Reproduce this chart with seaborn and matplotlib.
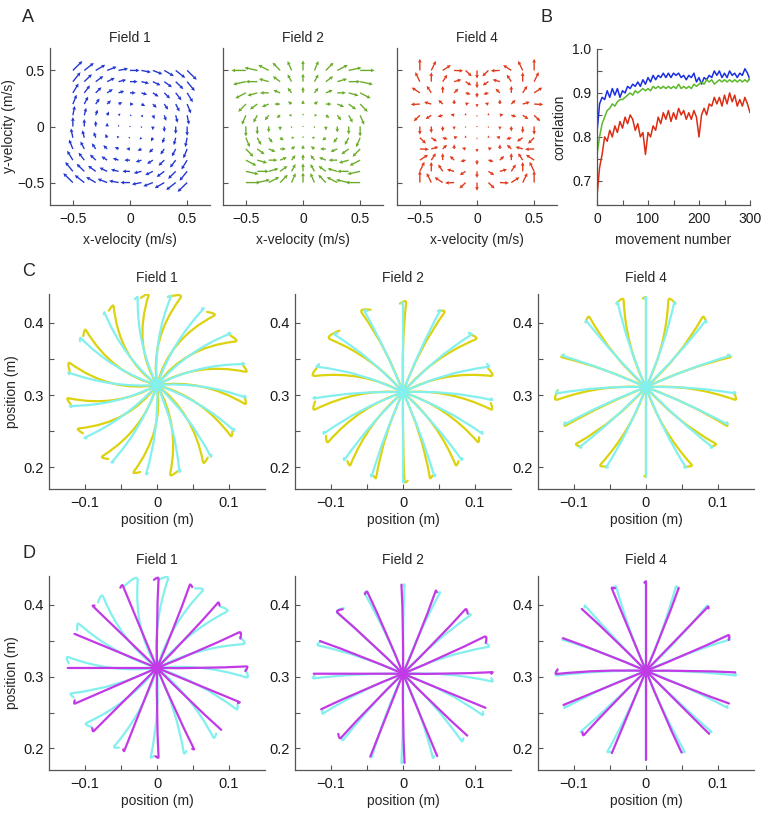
import numpy as np
import pandas as pd
import seaborn as sns
import matplotlib.pyplot as plt
from matplotlib.path import Path
from matplotlib.patches import PathPatch

# ---------------- panel A: force fields ----------------
GRID_V = [-0.5, -0.4, -0.3, -0.2, -0.1, 0.0, 0.1, 0.2, 0.3, 0.4, 0.5]
FIELD_TITLES = ['Field 1', 'Field 2', 'Field 4']
FIELD_ORDER = [1, 2, 4]          # force direction follows -i * z**n, z = vx + i*vy
FIELD_POWER = [1.0, 1.0, 1.0]    # force magnitude ~ |v|**p
FIELD_COLORS = ['#2336d0', '#6aab2a', '#e03a1c']
A_TICKS = [-0.5, 0, 0.5]
A_TICKLABELS = ['\u22120.5', '0', '0.5']

# ---------------- panel B: correlation ----------------
MOVES = list(range(0, 301, 5))
CORR_F1 = [0.81, 0.875, 0.89, 0.885, 0.905, 0.89, 0.91, 0.895, 0.91, 0.89,
           0.905, 0.90, 0.915, 0.91, 0.92, 0.915, 0.925, 0.915, 0.93, 0.92,
           0.935, 0.925, 0.94, 0.93, 0.94, 0.935, 0.945, 0.935, 0.945, 0.935,
           0.945, 0.94, 0.945, 0.935, 0.94, 0.93, 0.94, 0.935, 0.945, 0.925,
           0.935, 0.92, 0.935, 0.93, 0.94, 0.935, 0.95, 0.94, 0.95, 0.935,
           0.945, 0.935, 0.95, 0.94, 0.945, 0.935, 0.945, 0.94, 0.955, 0.945,
           0.93]
CORR_F2 = [0.76, 0.80, 0.83, 0.845, 0.86, 0.865, 0.875, 0.87, 0.88, 0.885,
           0.885, 0.89, 0.895, 0.90, 0.895, 0.905, 0.90, 0.905, 0.91, 0.905,
           0.91, 0.905, 0.915, 0.91, 0.915, 0.91, 0.915, 0.91, 0.915, 0.91,
           0.915, 0.91, 0.92, 0.91, 0.915, 0.91, 0.915, 0.91, 0.92, 0.915,
           0.92, 0.925, 0.92, 0.93, 0.925, 0.93, 0.92, 0.925, 0.93, 0.925,
           0.93, 0.925, 0.93, 0.925, 0.93, 0.925, 0.93, 0.925, 0.93, 0.925,
           0.935]
CORR_F4 = [0.665, 0.73, 0.76, 0.80, 0.79, 0.815, 0.80, 0.825, 0.81, 0.835,
           0.82, 0.845, 0.83, 0.85, 0.84, 0.815, 0.83, 0.80, 0.81, 0.76,
           0.81, 0.80, 0.825, 0.815, 0.845, 0.83, 0.855, 0.84, 0.86, 0.835,
           0.855, 0.84, 0.865, 0.85, 0.86, 0.84, 0.855, 0.84, 0.86, 0.845,
           0.80, 0.85, 0.865, 0.85, 0.875, 0.87, 0.89, 0.875, 0.89, 0.87,
           0.895, 0.875, 0.90, 0.88, 0.895, 0.87, 0.885, 0.87, 0.89, 0.875,
           0.855]

# ---------------- panels C, D: reaches ----------------
TARGET_DEG = [0, 22.5, 45, 67.5, 90, 112.5, 135, 157.5,
              180, 202.5, 225, 247.5, 270, 292.5, 315, 337.5]
CENTER_Y_C = [0.314, 0.304, 0.311]
CENTER_Y_D = [0.312, 0.304, 0.308]
# per target: (deviation half way, deviation at end, end hook) in degrees, + = counter-clockwise
C_F1_YELLOW = [(-2, -12, 4), (-3, -14, 4), (-3, -16, 5), (-4, -17, 5),
               (-3, -15, 8), (-4, -17, 5), (-3, -16, 4), (-3, -15, 4),
               (-2, -14, 5), (-3, -14, 4), (-3, -16, 4), (-4, -15, 4),
               (-3, -15, 4), (-3, -14, 5), (-3, -14, 4), (-2, -12, 3)]
C_F1_CYAN = [(-2, -8, 1), (-2, -9, 1), (-3, -10, 1), (-3, -9, 1),
             (-2, -9, 2), (-3, -10, 2), (-2, -9, 1), (-2, -9, 2),
             (-2, -8, 1), (-2, -9, 1), (-3, -9, 1), (-2, -8, 1),
             (-2, -7, 1), (-3, -8, 1), (-3, -8, 1), (-2, -8, 1)]
C_F2_YELLOW = [(-3, -11, 4), (-3, -12, 5), (-2, -9, 5), (-1, -5, 4),
               (0, -2, 4), (1, 5, -6), (2, 9, -8), (3, 12, -7),
               (3, 11, -5), (3, 11, -4), (2, 9, -3), (1, 5, -2),
               (0, 1, 2), (-1, -5, 2), (-2, -9, 3), (-3, -11, 3)]
C_F2_CYAN = [(-1, -5, 1), (-1, -6, 2), (-1, -5, 2), (0, -2, 1),
             (0, 0, 1), (1, 3, -2), (1, 5, -2), (1, 6, -2),
             (1, 4, -1), (1, 5, -1), (1, 4, -1), (0, 2, -1),
             (0, 0, 1), (0, -2, 1), (-1, -4, 1), (-1, -5, 1)]
C_F4_YELLOW = [(-2, -8, 4), (0, -3, 2), (1, 6, -4), (2, 8, -5),
               (0, 0, 2), (-2, -8, 5), (-1, -6, 4), (0, 3, -2),
               (2, 8, -6), (1, 3, -2), (-1, -6, 3), (-2, -8, 4),
               (0, 0, -1), (2, 8, -4), (1, 6, -3), (0, -3, 2)]
C_F4_CYAN = [(-1, -4, 1), (0, -2, 1), (1, 3, -1), (1, 4, -1),
             (0, 0, 1), (-1, -4, 1), (-1, -3, 1), (0, 2, -1),
             (1, 4, -2), (0, 2, -1), (-1, -3, 1), (-1, -4, 1),
             (0, 0, 0), (1, 4, -1), (1, 3, -1), (0, -2, 1)]
D_F1_MAGENTA = [(0, 1, -3), (0, 1, -4), (1, 2, -2), (0, 1, -2),
                (0, -1, 3), (0, 0, 2), (1, 1, -1), (0, 0, 0),
                (0, 0, 0), (1, 1, -2), (0, 0, -2), (1, 1, -1),
                (0, 1, -2), (1, 2, -1), (0, 1, 0), (0, 0, -1)]
D_F1_CYAN = [(0, -6, 5), (-1, -7, 5), (0, -6, 5), (-1, -8, 5),
             (-1, -7, 6), (-1, -10, 9), (0, -8, 5), (-1, -7, 4),
             (0, -7, 4), (-1, -6, 3), (0, -7, 4), (0, -6, 3),
             (0, -4, 2), (-1, -5, 2), (0, -6, 3), (0, -5, 3)]
D_F2_MAGENTA = [(0, 1, -1), (1, 2, -4), (0, 1, -3), (0, 1, -1),
                (0, 1, 0), (0, 1, 2), (1, 2, -4), (0, 1, 0),
                (0, 0, 0), (0, 1, 0), (0, 1, -3), (1, 1, 0),
                (0, 1, 0), (0, 0, 0), (0, 1, 0), (0, 0, 0)]
D_F2_CYAN = [(-1, -5, 2), (-1, -5, 3), (-1, -4, 2), (0, -2, 1),
             (0, -1, 1), (1, 3, -2), (1, 2, -5), (1, 4, -3),
             (1, 3, -2), (1, 4, -2), (1, 3, -2), (0, 2, -1),
             (0, -1, 1), (0, -3, 1), (-1, -4, 2), (-1, -5, 2)]
D_F4_MAGENTA = [(0, -1, 0), (0, 1, -3), (1, 1, -1), (0, 1, 0),
                (0, 0, 1), (0, 0, -2), (0, 1, 0), (0, 1, 0),
                (0, 2, -3), (0, 0, 0), (0, 1, -2), (0, 0, 0),
                (0, 0, 0), (0, 1, 0), (0, 0, 0), (0, 1, 0)]
D_F4_CYAN = [(-1, -3, 2), (0, -2, 1), (0, 2, -1), (1, 3, -2),
             (0, 0, 1), (-1, -3, 2), (-1, -2, 1), (0, 2, -1),
             (1, 3, -3), (0, 2, -1), (-1, -2, 1), (-1, -3, 2),
             (0, 0, 0), (1, 3, -2), (1, 2, -1), (0, -2, 1)]

POS_XTICKS = [-0.1, -0.05, 0, 0.05, 0.1]
POS_XLABELS = ['\u22120.1', '', '0', '', '0.1']
POS_YTICKS = [0.2, 0.25, 0.3, 0.35, 0.4]
POS_YLABELS = ['0.2', '', '0.3', '', '0.4']

YELLOW = '#dcd20e'
CYAN = '#84f0ee'
MAGENTA = '#c23ae6'

sns.set_style('ticks')
plt.rcParams['font.family'] = ['Liberation Sans', 'DejaVu Sans']
plt.rcParams.update({
    'xtick.direction': 'in', 'ytick.direction': 'in',
    'xtick.major.size': 3.5, 'ytick.major.size': 3.5,
    'xtick.major.width': 0.8, 'ytick.major.width': 0.8,
    'xtick.color': '#555555', 'ytick.color': '#555555',
    'xtick.labelcolor': '#1a1a1a', 'ytick.labelcolor': '#1a1a1a',
    'axes.edgecolor': '#555555', 'axes.linewidth': 0.9,
    'xtick.major.pad': 5, 'ytick.major.pad': 4,
})

fig = plt.figure(figsize=(7.61, 8.14), dpi=100)
W, H = 761.0, 814.0


def add_axes(x0, x1, y0, y1):
    return fig.add_axes([x0 / W, 1 - y1 / H, (x1 - x0) / W, (y1 - y0) / H])


# ---- row A ----
a_left = [50, 223, 397]
vx, vy = np.meshgrid(GRID_V, GRID_V)
z = vx + 1j * vy
for i in range(3):
    ax = add_axes(a_left[i], a_left[i] + 160, 48, 205)
    direc = -1j * z ** FIELD_ORDER[i]
    mag = np.abs(direc)
    unit = np.divide(direc, mag, out=np.zeros_like(direc), where=mag > 0)
    f = unit * np.abs(z) ** FIELD_POWER[i]
    ax.quiver(vx, vy, f.real, f.imag, color=FIELD_COLORS[i], angles='xy',
              scale_units='xy', scale=[6.0, 5.6, 6.8][i], width=0.0085,
              headwidth=2.8, headlength=2.8, headaxislength=2.5)
    ax.set_xlim(-0.7, 0.7)
    ax.set_ylim(-0.7, 0.7)
    ax.set_xticks(A_TICKS)
    ax.set_xticklabels(A_TICKLABELS, fontsize=10)
    ax.set_yticks(A_TICKS)
    if i == 0:
        ax.set_yticklabels(A_TICKLABELS, fontsize=10)
        ax.set_ylabel('y-velocity (m/s)', fontsize=10, labelpad=1)
    else:
        ax.set_yticklabels([])
    ax.set_xlabel('x-velocity (m/s)', fontsize=10, labelpad=5)
    ax.set_title(FIELD_TITLES[i], fontsize=10, pad=4)
    sns.despine(ax=ax)

# ---- panel B ----
axb = add_axes(597, 750, 49, 205)
df = pd.DataFrame({
    'movement': MOVES * 3,
    'correlation': CORR_F1 + CORR_F2 + CORR_F4,
    'field': ['Field 1'] * len(MOVES) + ['Field 2'] * len(MOVES) + ['Field 4'] * len(MOVES),
})
sns.lineplot(data=df, x='movement', y='correlation', hue='field',
             palette=dict(zip(FIELD_TITLES, ['#1a2fe0', '#5cb82a', '#dc2c14'])),
             linewidth=1.1, legend=False, ax=axb)
axb.set_xlim(0, 300)
axb.set_ylim(0.645, 1.0)
axb.set_xticks([0, 50, 100, 150, 200, 250, 300])
axb.set_xticklabels(['0', '', '100', '', '200', '', '300'], fontsize=10)
axb.set_yticks([0.7, 0.75, 0.8, 0.85, 0.9, 0.95, 1.0])
axb.set_yticklabels(['0.7', '', '0.8', '', '0.9', '', '1.0'], fontsize=10)
axb.set_xlabel('movement number', fontsize=10, labelpad=5)
axb.set_ylabel('correlation', fontsize=10, labelpad=4)
sns.despine(ax=axb)


# ---- rows C and D ----
def draw_reaches(ax, cy, params, color, zorder):
    R = 0.124
    c = np.array([0.0, cy])
    for theta, (mid, end, hook) in zip(TARGET_DEG, params):
        def pt(rr, a):
            a = np.radians(theta + a)
            return np.array([rr * np.cos(a), cy + rr * np.sin(a)])
        m = pt(R * 0.5, mid)
        e = pt(R, end)
        ctrl = 2 * m - (c + e) / 2
        verts = [c, ctrl, e]
        codes = [Path.MOVETO, Path.CURVE3, Path.CURVE3]
        if hook != 0:
            h = pt(R * 0.99, end + hook)
            tang = (e - ctrl) / np.linalg.norm(e - ctrl)
            hc = e + tang * 0.6 * np.linalg.norm(h - e)
            verts += [hc, h]
            codes += [Path.CURVE3, Path.CURVE3]
        ax.add_patch(PathPatch(Path(verts, codes), fill=False, edgecolor=color, lw=1.6,
                               capstyle='round', joinstyle='round', zorder=zorder))


def setup_pos_axes(ax, title, first):
    ax.set_xlim(-0.15, 0.15)
    ax.set_ylim(0.17, 0.44)
    ax.set_xticks(POS_XTICKS)
    ax.set_xticklabels(POS_XLABELS, fontsize=10.5)
    ax.set_yticks(POS_YTICKS)
    ax.set_yticklabels(POS_YLABELS, fontsize=10.5)
    ax.set_xlabel('position (m)', fontsize=10, labelpad=2)
    if first:
        ax.set_ylabel('position (m)', fontsize=10, labelpad=3)
    ax.set_title(title, fontsize=10, pad=9)
    sns.despine(ax=ax)


c_left = [49, 295, 538]
C_SETS = [(C_F1_YELLOW, C_F1_CYAN), (C_F2_YELLOW, C_F2_CYAN), (C_F4_YELLOW, C_F4_CYAN)]
D_SETS = [(D_F1_MAGENTA, D_F1_CYAN), (D_F2_MAGENTA, D_F2_CYAN), (D_F4_MAGENTA, D_F4_CYAN)]
for i in range(3):
    ax = add_axes(c_left[i], c_left[i] + 216, 294, 489)
    draw_reaches(ax, CENTER_Y_C[i], C_SETS[i][0], YELLOW, 2)
    draw_reaches(ax, CENTER_Y_C[i], C_SETS[i][1], CYAN, 3)
    setup_pos_axes(ax, FIELD_TITLES[i], i == 0)

    ax = add_axes(c_left[i], c_left[i] + 216, 576, 770)
    draw_reaches(ax, CENTER_Y_D[i], D_SETS[i][1], CYAN, 2)
    draw_reaches(ax, CENTER_Y_D[i], D_SETS[i][0], MAGENTA, 3)
    setup_pos_axes(ax, FIELD_TITLES[i], i == 0)

# panel letters
for letter, (px, py) in zip('ABCD', [(22, 18), (541, 18), (22, 272), (22, 553)]):
    fig.text(px / W, 1 - py / H, letter, fontsize=13, ha='left', va='center')

fig.savefig('out.png', dpi=100)
